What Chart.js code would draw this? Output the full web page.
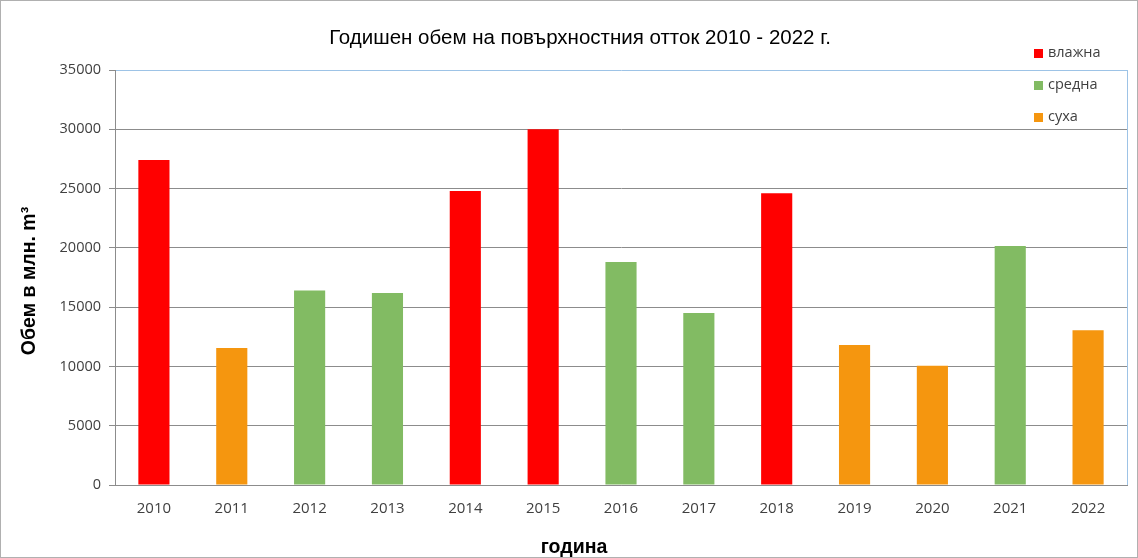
<!DOCTYPE html>
<html>
<head>
<meta charset="utf-8">
<script src="https://cdn.jsdelivr.net/npm/chart.js@4"></script>
<style>
    html, body { margin: 0; padding: 0; background: #fff; }
    #wrap { width: 1138px; height: 558px; }
</style>
</head>
<body>
<div id="wrap"><canvas id="graficoOtok"></canvas></div>
<script>
// Данни за годишния обем на повърхностния отток
const godini = ['2010', '2011', '2012', '2013', '2014', '2015', '2016', '2017', '2018', '2019', '2020', '2021', '2022'];
const obem = [27400, 11550, 16400, 16200, 24800, 30000, 18800, 14500, 24600, 11800, 10050, 20150, 13050];
const tip = ['влажна', 'суха', 'средна', 'средна', 'влажна', 'влажна', 'средна', 'средна', 'влажна', 'суха', 'суха', 'средна', 'суха'];
const tipove = ['влажна', 'средна', 'суха'];
const tsvetove = ['#ff0000', '#82bb63', '#f5960f'];
const zaglavieX = 'година';
const zaglavieY = 'Обем в млн. m³';

const tsvyatPoTip = t => tsvetove[tipove.indexOf(t)];

// легенда, заглавия на осите и рамка, нарисувани върху платното
const dopalnitelno = {
    id: 'dopalnitelno',
    afterDraw(chart) {
        const ctx = chart.ctx;
        const a = chart.chartArea;
        ctx.save();
        // дясна рамка на графичната площ
        ctx.strokeStyle = '#9dc3e6';
        ctx.lineWidth = 1;
        ctx.beginPath();
        ctx.moveTo(a.right + 0.5, a.top);
        ctx.lineTo(a.right + 0.5, a.bottom);
        ctx.stroke();
        // легенда
        ctx.font = '14.5px "Open Sans"';
        ctx.textBaseline = 'middle';
        tipove.forEach((t, i) => {
            const y = 53 + i * 32;
            ctx.fillStyle = tsvetove[i];
            ctx.fillRect(1034, y - 4, 9, 9);
            ctx.fillStyle = '#404040';
            ctx.fillText(t, 1048, y);
        });
        // заглавия на осите
        ctx.fillStyle = '#000';
        ctx.font = 'bold 19.5px "Liberation Sans", Arial';
        ctx.textAlign = 'center';
        ctx.fillText(zaglavieX, 574, 548);
        ctx.translate(30, 281);
        ctx.rotate(-Math.PI / 2);
        ctx.fillText(zaglavieY, 0, 0);
        ctx.restore();
        // външна рамка
        ctx.save();
        ctx.strokeStyle = '#b0b0b0';
        ctx.strokeRect(0.5, 0.5, chart.width - 1, chart.height - 1);
        ctx.restore();
    }
};

const ctx = document.getElementById('graficoOtok');

new Chart(ctx, {
    type: 'bar',
    data: {
        labels: godini,
        datasets: [{
            label: 'Обем',
            data: obem,
            backgroundColor: tip.map(tsvyatPoTip),
            barPercentage: 0.4,
            categoryPercentage: 1
        }]
    },
    options: {
        responsive: true,
        maintainAspectRatio: false,
        animation: false,
        layout: {
            padding: { top: 6, right: 11, left: 33, bottom: 0 }
        },
        plugins: {
            legend: { display: false },
            tooltip: { enabled: false },
            title: {
                display: true,
                text: 'Годишен обем на повърхностния отток 2010 - 2022 г.',
                color: '#000',
                font: { family: '"Liberation Sans", Arial', size: 20.5, weight: 'normal' },
                padding: { top: 20, bottom: 19.4 }
            }
        },
        scales: {
            x: {
                grid: { display: false, drawTicks: false },
                border: { color: '#8c8c8c' },
                ticks: {
                    color: '#404040',
                    font: { family: '"Open Sans"', size: 15 },
                    padding: 15
                },
                afterFit(scale) { scale.height = 73; }
            },
            y: {
                min: 0,
                max: 35000,
                ticks: {
                    stepSize: 5000,
                    color: '#404040',
                    font: { family: '"Open Sans"', size: 14.5 },
                    padding: 8,
                    callback: v => String(v)
                },
                grid: {
                    color: c => c.tick && c.tick.value === 35000 ? '#9dc3e6' : '#8c8c8c',
                    tickLength: 6,
                    tickColor: '#8c8c8c'
                },
                border: { color: '#8c8c8c' },
                afterFit(scale) { scale.width = 82; }
            }
        }
    },
    plugins: [dopalnitelno]
});
</script>
</body>
</html>
